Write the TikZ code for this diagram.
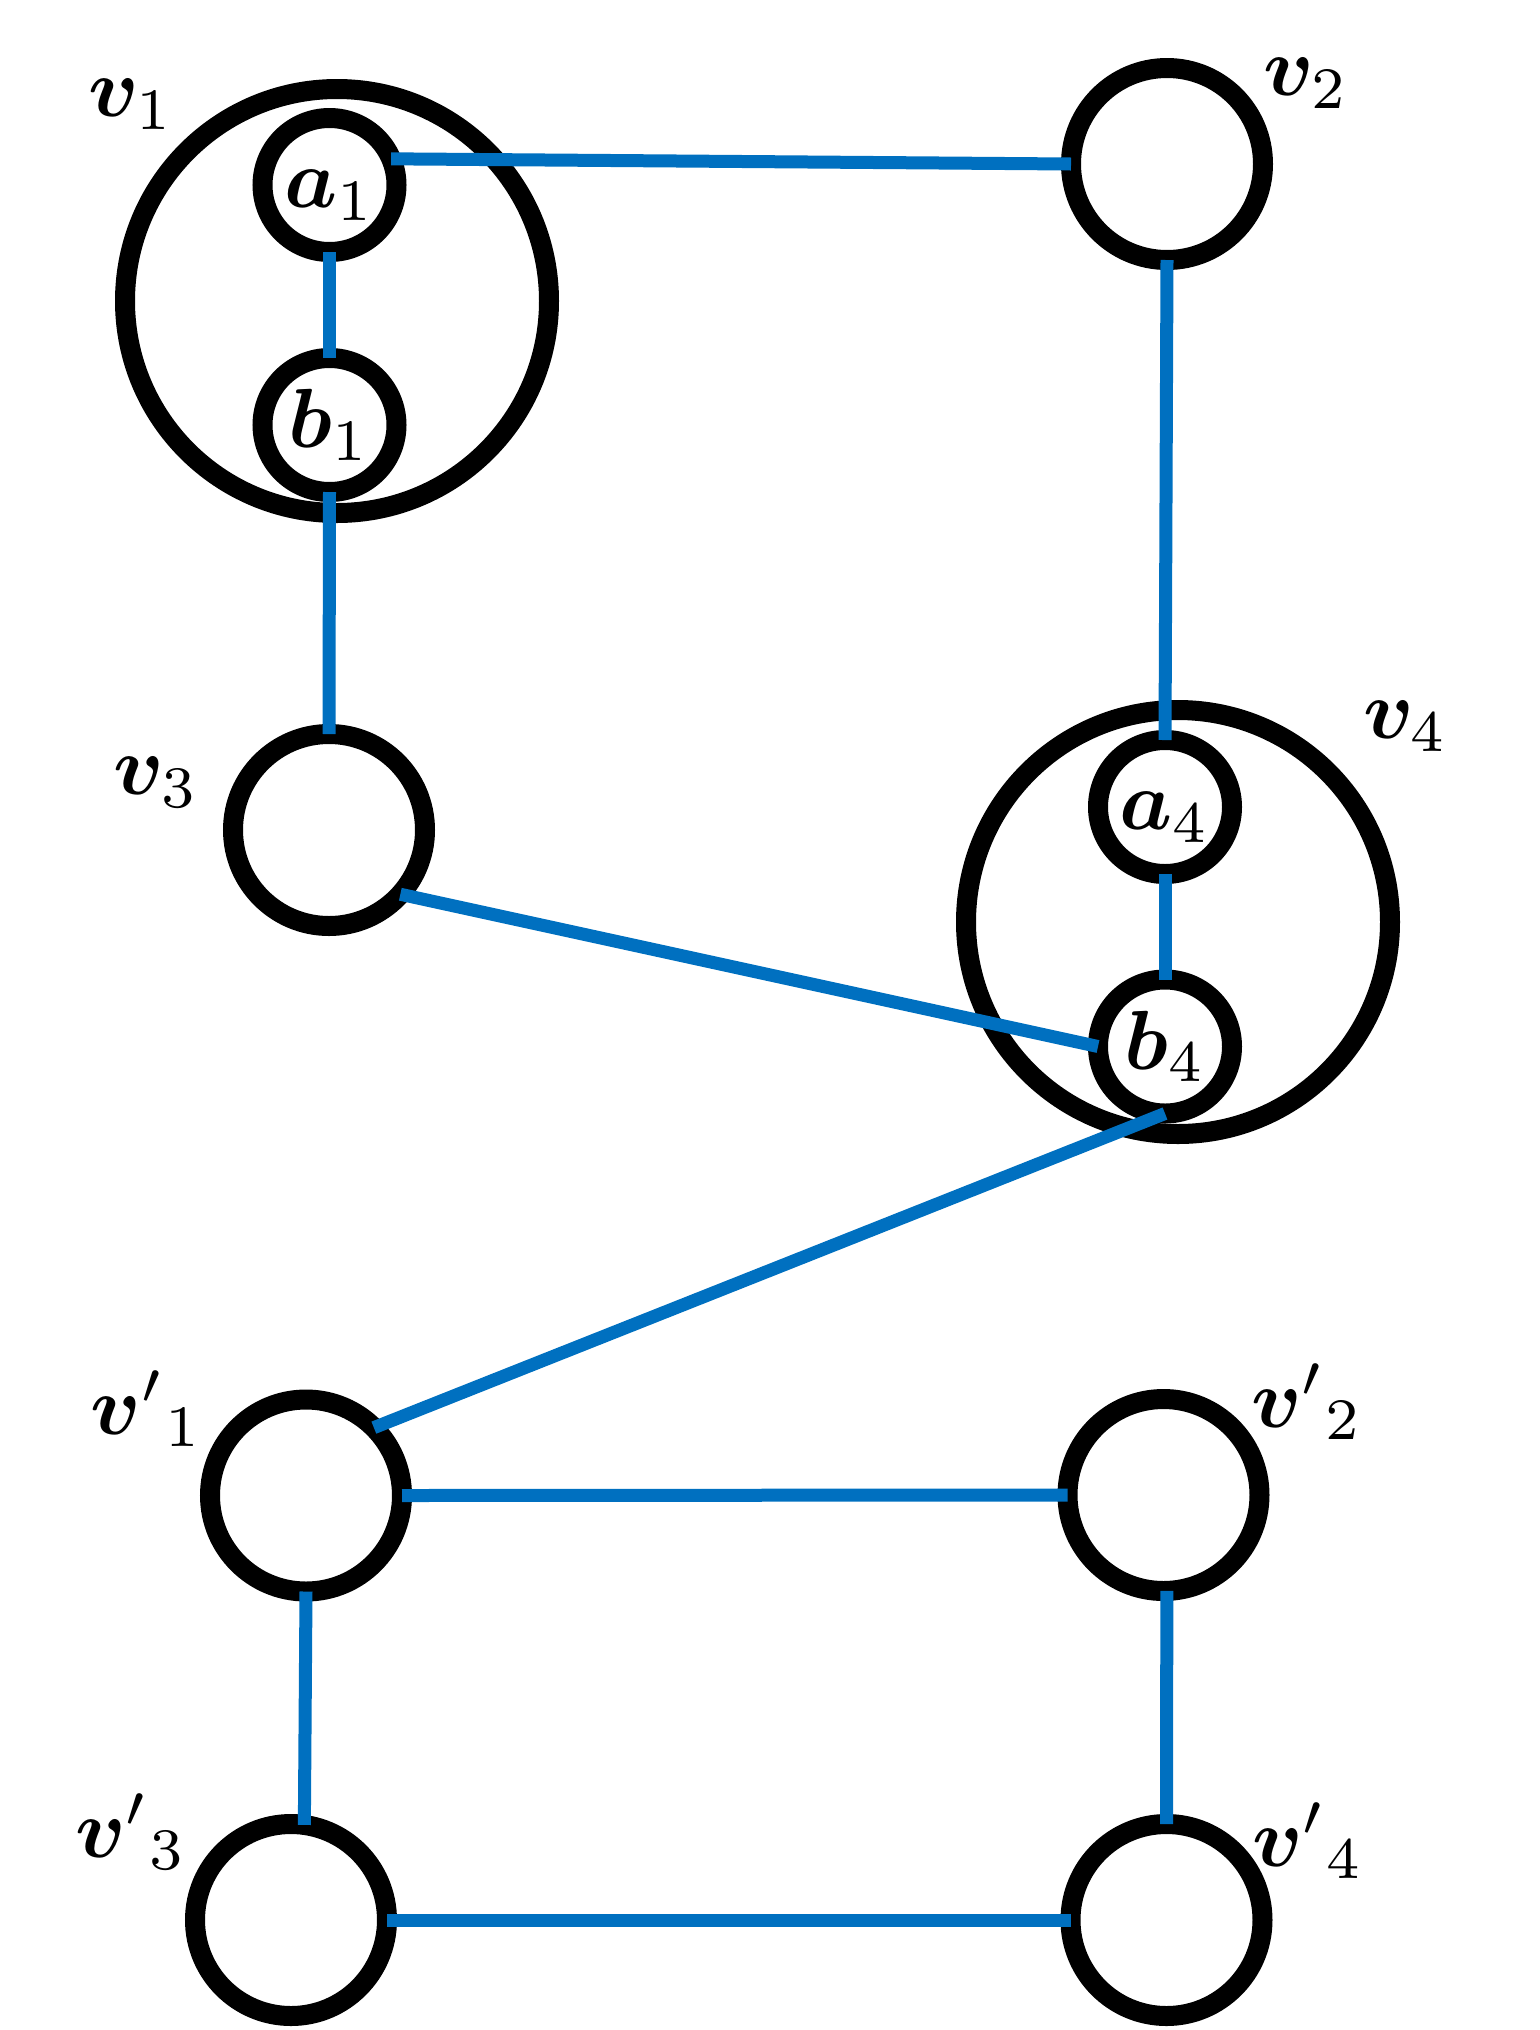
\documentclass[tikz,border=0pt]{standalone}
\definecolor{edgeblue}{HTML}{0070C0}
\DeclareMathAlphabet{\mathbi}{OML}{cmm}{b}{it}
\begin{document}
\begin{tikzpicture}[x=0.5pt,y=-0.5pt,
  vert/.style={circle,draw=black,line width=10pt,inner sep=0pt,outer sep=0pt,minimum size=96pt},
  innerv/.style={circle,draw=black,line width=10pt,inner sep=0pt,outer sep=0pt,minimum size=67pt},
  groupv/.style={circle,draw=black,line width=10pt,inner sep=0pt,outer sep=0pt,minimum size=212pt},
  lbl/.style={inner sep=0pt,scale=4.2},
  edge/.style={draw=edgeblue,line width=6.5pt}]
\useasboundingbox (0,0) rectangle (1540,2030);
% group circles
\node[groupv] (v1) at (337,301) {};
\node[groupv] (v4) at (1178,922) {};
% inner vertices
\node[innerv] (a1) at (329.5,185) {};
\node[innerv] (b1) at (329.5,425) {};
\node[innerv] (a4) at (1165,807) {};
\node[innerv] (b4) at (1165,1046.5) {};
% plain vertices
\node[vert] (v2) at (1167,164) {};
\node[vert] (v3) at (329,830) {};
\node[vert] (vp1) at (306,1495.5) {};
\node[vert] (vp2) at (1163.5,1495) {};
\node[vert] (vp3) at (291,1920) {};
\node[vert] (vp4) at (1166.5,1920) {};
% texts inside inner vertices
\node[lbl] (ta1) at (a1.center) {$\vphantom{b}\mathbi{a}_1$};
\node[lbl] (tb1) at (b1.center) {$\mathbi{b}_1$};
\node[lbl] (ta4) at (a4.center) {$\vphantom{b}\mathbi{a}_4$};
\node[lbl] (tb4) at (b4.center) {$\mathbi{b}_4$};
% labels
\node[lbl] (lv1) at (131.5,104.5) {$\mathbi{v}_1$};
\node[lbl] (lv2) at (1306.5,83.5) {$\mathbi{v}_2$};
\node[lbl] (lv3) at (156.5,782.5) {$\mathbi{v}_3$};
\node[lbl] (lv4) at (1406,726.5) {$\mathbi{v}_4$};
\node[lbl] (lvp1) at (146.8,1409) {${\mathbi{v}'}_1$};
\node[lbl] (lvp2) at (1307,1402) {${\mathbi{v}'}_2$};
\node[lbl] (lvp3) at (131,1832) {${\mathbi{v}'}_3$};
\node[lbl] (lvp4) at (1308,1841) {${\mathbi{v}'}_4$};
% edges
\draw[edge] (a1.23) -- (v2.west);
\draw[edge] (a1.south) -- (b1.north);
\draw[edge] (b1.south) -- (v3.north);
\draw[edge] (v2.south) -- (a4.north);
\draw[edge] (a4.south) -- (b4.north);
\draw[edge] (v3.-42) -- (b4.west);
\draw[edge] (b4.south) -- (vp1.north east);
\draw[edge] (vp1.east) -- (vp2.west);
\draw[edge] (vp1.south) -- (vp3.82);
\draw[edge] (vp2.-88) -- (vp4.north);
\draw[edge] (vp3.east) -- (vp4.west);
\end{tikzpicture}
\end{document}
